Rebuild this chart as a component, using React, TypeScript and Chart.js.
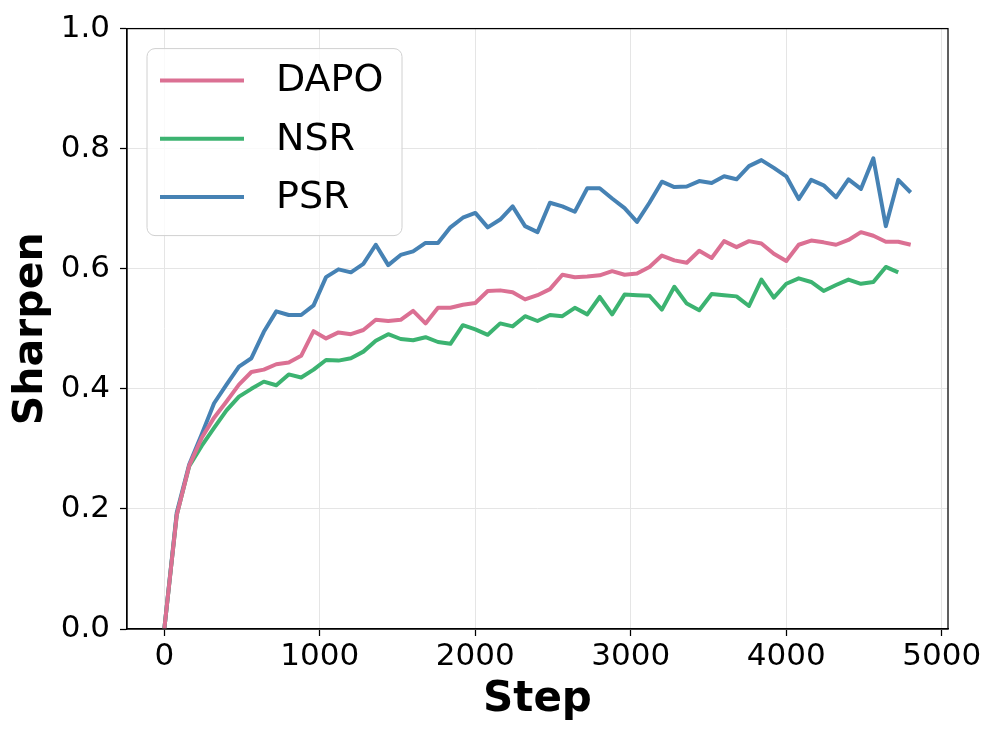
import React, { useEffect, useRef } from "react";
import { Chart, registerables } from "chart.js";

Chart.register(...registerables);

const steps = [
  0, 80, 160, 240, 320, 400, 480, 560, 640, 720, 800, 880, 960, 1040, 1120, 1200,
  1280, 1360, 1440, 1520, 1600, 1680, 1760, 1840, 1920, 2000, 2080, 2160, 2240,
  2320, 2400, 2480, 2560, 2640, 2720, 2800, 2880, 2960, 3040, 3120, 3200, 3280,
  3360, 3440, 3520, 3600, 3680, 3760, 3840, 3920, 4000, 4080, 4160, 4240, 4320,
  4400, 4480, 4560, 4640, 4720, 4800,
];

const dapo = [
  0, 0.19, 0.272, 0.318, 0.352, 0.379, 0.407, 0.428, 0.432, 0.441, 0.444, 0.455,
  0.496, 0.484, 0.494, 0.491, 0.498, 0.515, 0.513, 0.515, 0.53, 0.509, 0.535,
  0.535, 0.54, 0.543, 0.563, 0.564, 0.561, 0.549, 0.556, 0.566, 0.59, 0.586,
  0.587, 0.589, 0.596, 0.59, 0.592, 0.603, 0.622, 0.614, 0.61, 0.63, 0.618,
  0.646, 0.636, 0.646, 0.642, 0.625, 0.613, 0.64, 0.647, 0.644, 0.64, 0.648,
  0.661, 0.655, 0.645, 0.645, 0.64,
];

const nsr = [
  0, 0.19, 0.271, 0.305, 0.335, 0.364, 0.387, 0.4, 0.412, 0.406, 0.424, 0.419,
  0.432, 0.448, 0.447, 0.451, 0.462, 0.48, 0.491, 0.483, 0.481, 0.486, 0.478,
  0.475, 0.506, 0.499, 0.49, 0.509, 0.504, 0.521, 0.513, 0.523, 0.521, 0.535,
  0.524, 0.553, 0.524, 0.557, 0.556, 0.555, 0.532, 0.57, 0.542, 0.531, 0.558,
  0.556, 0.554, 0.538, 0.582, 0.552, 0.575, 0.584, 0.578, 0.563, 0.573, 0.582,
  0.575, 0.578, 0.603, 0.594,
];

const psr = [
  0, 0.194, 0.274, 0.324, 0.376, 0.407, 0.437, 0.451, 0.495, 0.529, 0.523, 0.523,
  0.539, 0.586, 0.599, 0.594, 0.608, 0.64, 0.606, 0.623, 0.629, 0.643, 0.643,
  0.669, 0.685, 0.693, 0.669, 0.682, 0.704, 0.671, 0.661, 0.71, 0.704, 0.695,
  0.734, 0.734, 0.717, 0.701, 0.678, 0.71, 0.745, 0.736, 0.737, 0.746, 0.743,
  0.754, 0.749, 0.771, 0.781, 0.768, 0.754, 0.716, 0.748, 0.739, 0.719, 0.749,
  0.733, 0.784, 0.671, 0.748, 0.727,
];

const seriesNames = ["DAPO", "NSR", "PSR"];
const seriesColors = ["#DB7093", "#3CB371", "#4682B4"];
const xTicks = [0, 1000, 2000, 3000, 4000, 5000];
const yTicks = [0, 0.2, 0.4, 0.6, 0.8, 1.0];

const FONT = "'DejaVu Sans', sans-serif";

const framePlugin = {
  id: "frameAndLegend",
  afterDatasetsDraw(chart: any) {
    const { ctx, chartArea } = chart;
    ctx.save();
    ctx.strokeStyle = "#000";
    ctx.lineWidth = 1.25;
    ctx.strokeRect(chartArea.left, chartArea.top, chartArea.right - chartArea.left, chartArea.bottom - chartArea.top);

    const lx = chartArea.left + 20;
    const ly = chartArea.top + 20;
    const w = 255;
    const h = 187;
    const r = 8;
    ctx.beginPath();
    ctx.moveTo(lx + r, ly);
    ctx.lineTo(lx + w - r, ly);
    ctx.arcTo(lx + w, ly, lx + w, ly + r, r);
    ctx.lineTo(lx + w, ly + h - r);
    ctx.arcTo(lx + w, ly + h, lx + w - r, ly + h, r);
    ctx.lineTo(lx + r, ly + h);
    ctx.arcTo(lx, ly + h, lx, ly + h - r, r);
    ctx.lineTo(lx, ly + r);
    ctx.arcTo(lx, ly, lx + r, ly, r);
    ctx.closePath();
    ctx.fillStyle = "rgba(255,255,255,0.8)";
    ctx.fill();
    ctx.strokeStyle = "#d0d0d0";
    ctx.lineWidth = 1;
    ctx.stroke();

    ctx.font = `38px ${FONT}`;
    ctx.textBaseline = "middle";
    ctx.textAlign = "left";
    seriesNames.forEach((name, i) => {
      const yy = ly + 32 + i * 58.2;
      ctx.beginPath();
      ctx.moveTo(lx + 13, yy);
      ctx.lineTo(lx + 97, yy);
      ctx.strokeStyle = seriesColors[i];
      ctx.lineWidth = 4;
      ctx.stroke();
      ctx.fillStyle = "#000";
      ctx.fillText(name, lx + 129, yy + 1);
    });
    ctx.restore();
  },
};

export default function App() {
  const ref = useRef<HTMLCanvasElement>(null);

  useEffect(() => {
    document.body.style.margin = "0";
    const all = [dapo, nsr, psr];
    const chart = new Chart(ref.current as HTMLCanvasElement, {
      type: "line",
      data: {
        datasets: all.map((vals, i) => ({
          label: seriesNames[i],
          data: vals.map((v, j) => ({ x: steps[j], y: v })),
          borderColor: seriesColors[i],
          backgroundColor: seriesColors[i],
          borderWidth: 4,
          pointRadius: 0,
          tension: 0,
          fill: false,
          borderJoinStyle: "round",
        })),
      },
      options: {
        responsive: false,
        animation: false,
        layout: { padding: { left: 0, top: 25, right: 48, bottom: 0 } },
        plugins: {
          legend: { display: false },
          tooltip: { enabled: false },
        },
        scales: {
          x: {
            type: "linear",
            min: -240,
            max: 5040,
            afterBuildTicks: (s: any) => {
              s.ticks = xTicks.map((v) => ({ value: v }));
            },
            afterFit: (s: any) => {
              s.height = 107;
            },
            ticks: {
              font: { family: FONT, size: 31 },
              color: "#000",
              padding: 2,
              maxRotation: 0,
              autoSkip: false,
              callback: (v: any) => String(v),
            },
            grid: {
              color: "#e5e5e5",
              lineWidth: 1,
              tickLength: 7,
              tickColor: "#000",
              tickWidth: 1.25,
            },
            border: { display: true, color: "#000", width: 1.25 },
            title: {
              display: true,
              text: "Step",
              font: { family: FONT, size: 42, weight: "bold" },
              color: "#000",
              padding: { top: 0, bottom: 11 },
            },
          },
          y: {
            type: "linear",
            min: 0,
            max: 1,
            afterBuildTicks: (s: any) => {
              s.ticks = yTicks.map((v) => ({ value: v }));
            },
            afterFit: (s: any) => {
              s.width = 127;
            },
            ticks: {
              font: { family: FONT, size: 31 },
              color: "#000",
              padding: 10,
              autoSkip: false,
              callback: (v: any) => Number(v).toFixed(1),
            },
            grid: {
              color: "#e5e5e5",
              lineWidth: 1,
              tickLength: 7,
              tickColor: "#000",
              tickWidth: 1.25,
            },
            border: { display: true, color: "#000", width: 1.25 },
            title: {
              display: true,
              text: "Sharpen",
              font: { family: FONT, size: 41, weight: "bold" },
              color: "#000",
              padding: { top: 7, bottom: 0 },
            },
          },
        },
      },
      plugins: [framePlugin],
    } as any);
    return () => chart.destroy();
  }, []);

  return (
    <div style={{ position: "absolute", left: 0, top: 0, width: 996, height: 736 }}>
      <canvas ref={ref} width={996} height={736} />
    </div>
  );
}
